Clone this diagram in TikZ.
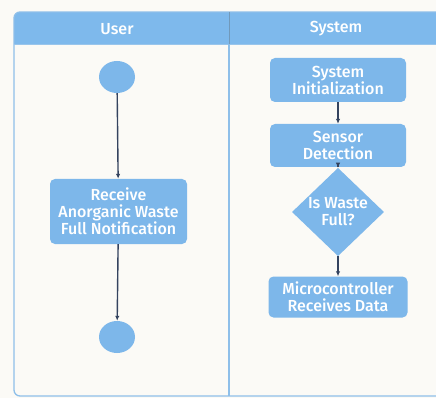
\documentclass[tikz,border=0pt]{standalone}
\usepackage{fontspec}
\setmainfont{Fira Sans}[BoldFont={Fira Sans Medium}]
\usetikzlibrary{arrows.meta,shapes.geometric}

\definecolor{pagebg}{HTML}{FBFAF6}
\definecolor{laneblue}{HTML}{7EB9EC}
\definecolor{boxblue}{HTML}{7DB7EA}
\definecolor{edgeblue}{HTML}{8EBFE9}
\definecolor{flowink}{HTML}{34435F}

\begin{document}
\begin{tikzpicture}[x=1pt,y=-1pt,
  lanehead/.style={text=white,font=\fontsize{16}{18}\selectfont\bfseries},
  actbox/.style={fill=boxblue,draw=none,rounded corners=5pt,text=white,align=center,
    inner sep=0pt,font=\fontsize{16}{17}\selectfont\bfseries},
  choice/.style={diamond,fill=boxblue,draw=none,text=white,align=center,inner sep=0pt,
    minimum width=92pt,minimum height=80pt,font=\fontsize{16}{17}\selectfont\bfseries},
  endpoint/.style={ellipse,fill=boxblue,draw=none,minimum width=36pt,minimum height=32pt,inner sep=0pt},
  flow/.style={-{Latex[length=5pt,width=4.5pt]},flowink,line width=1.4pt}]
\useasboundingbox (0,0) rectangle (436,398);
\clip (0,0) rectangle (436,398);
\fill[pagebg] (0,0) rectangle (436,398);

% swimlane frame, runs off the right edge
\begin{scope}
  \clip[rounded corners=6pt] (14,12) rectangle (452,396);
  \fill[laneblue] (14,12) rectangle (452,44);
\end{scope}
\draw[edgeblue,line width=1.3pt,rounded corners=6pt] (14,12) rectangle (452,396);
\draw[edgeblue!90!white,line width=0.8pt] (14,44) -- (452,44);
\draw[edgeblue!80!black,line width=0.6pt] (229,12) -- (229,44);
\draw[edgeblue,line width=1.3pt] (229,44) -- (229,396);

\node[lanehead] (userlane) at (117,29) {User};
\node[lanehead] (syslane) at (336,29) {System};

% user lane
\node[endpoint] (start) at (117,77) {};
\node[actbox,minimum width=137pt,minimum height=65pt] (notify) at (118.5,211.5)
  {Receive\\Anorganic Waste\\Full Notification};
\node[endpoint] (stop) at (117,337) {};

% system lane
\node[actbox,minimum width=136pt,minimum height=44pt] (init) at (338,80)
  {System\\Initialization};
\node[actbox,minimum width=136pt,minimum height=43pt] (sensor) at (338,145.5)
  {Sensor\\Detection};
\node[choice] (full) at (338,212) {Is Waste\\Full?};
\node[actbox,minimum width=139pt,minimum height=41pt] (mcu) at (338,297)
  {Microcontroller\\Receives Data};

\draw[flow] (start) -- (notify);
\draw[flow] (notify) -- (stop);
\draw[flow] (init) -- (sensor);
\draw[flow] (sensor) -- (full);
\draw[flow] (full) -- (mcu);
\end{tikzpicture}
\end{document}
